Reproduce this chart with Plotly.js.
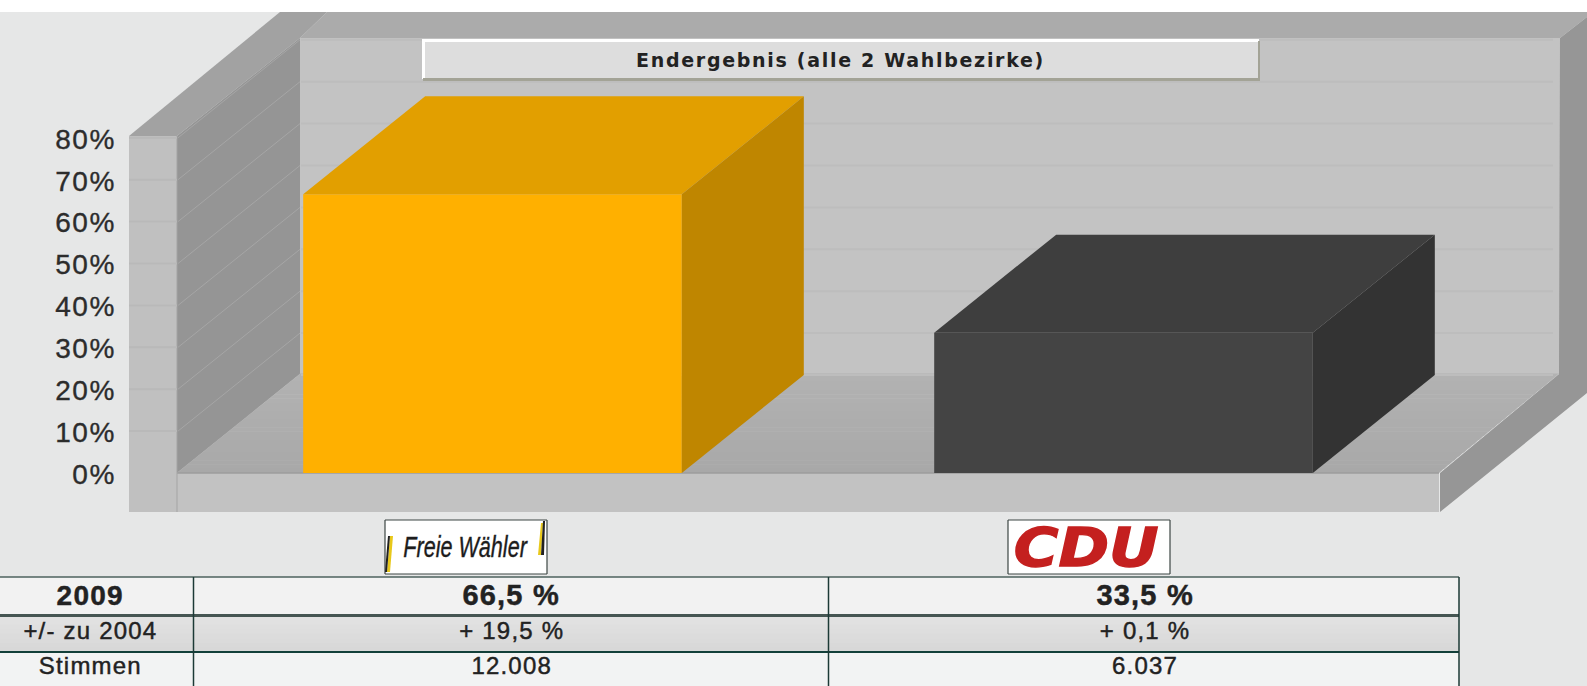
<!DOCTYPE html>
<html>
<head>
<meta charset="utf-8">
<script src="https://cdn.plot.ly/plotly-3.0.1.min.js"></script>
<style>
html,body{margin:0;padding:0;background:#e6e7e7;overflow:hidden}
#chart{width:1587px;height:686px}
.gtitle{letter-spacing:1.7px}
.annotation text{letter-spacing:1.2px;stroke:#222222;stroke-width:.45px}
.ytick text{letter-spacing:1.6px;stroke:#2c2c2c;stroke-width:.35px}
.annotation[data-index="9"] text{letter-spacing:0;stroke-width:.4px;transform-box:fill-box;transform-origin:center;transform:scaleX(.72)}
.annotation[data-index="10"] text{letter-spacing:0;stroke:#c4201f;stroke-width:1.4px;transform-box:fill-box;transform-origin:center;transform:scaleX(1.13)}
</style>
</head>
<body>
<div id="chart"></div>
<script>
// ---- chart data ----
const chartTitle = "Endergebnis (alle 2 Wahlbezirke)";
const categories = ["Freie Wähler", "CDU"];
const voteShare = [66.5, 33.5];
const yTicks = [0, 10, 20, 30, 40, 50, 60, 70, 80];
const rowLabels = ["2009", "+/- zu 2004", "Stimmen"];
const freieWaehlerRow = ["66,5 %", "+ 19,5 %", "12.008"];
const cduRow = ["33,5 %", "+ 0,1 %", "6.037"];

// ---- page geometry ----
const W = 1587, H = 686;
const zeroY = 473, pxPerUnit = 4.19;
const xUnit = 631, xCenter0 = 492.5;
const depthX = 122, depthY = 98;
const xRange = [(0 - xCenter0) / xUnit, (W - xCenter0) / xUnit];
const yRange = [(zeroY - H) / pxPerUnit, zeroY / pxPerUnit];
const dxData = depthX / xUnit, dyData = depthY / pxPerUnit;
const barWidth = 0.6;
const barColors = {front: ["#ffb000", "#444444"], top: ["#e29f00", "#3e3e3e"], side: ["#bf8600", "#333333"]};

const P = (x, y) => `${x / W},${1 - y / H}`;
const poly = (pts, fill, layer) => ({
  type: "path", xref: "paper", yref: "paper", layer: layer || "below",
  path: "M" + pts.map(p => P(p[0], p[1])).join("L") + "Z",
  fillcolor: fill, line: {width: 0}
});
const rect = (x0, y0, x1, y1, fill) => poly([[x0, y0], [x1, y0], [x1, y1], [x0, y1]], fill);
const seg = (x0, y0, x1, y1, color, width) => ({
  type: "line", xref: "paper", yref: "paper", layer: "below",
  x0: x0 / W, x1: x1 / W, y0: 1 - y0 / H, y1: 1 - y1 / H,
  line: {color, width}
});

const shapes = [];
// white strip on top
shapes.push(rect(0, 0, W, 12, "#ffffff"));
// frame rims
shapes.push(poly([[300, 38], [327, 12], [W, 12], [W, 17], [1560, 38]], "#ababab"));
shapes.push(poly([[129, 136], [280, 12], [327, 12], [300, 38], [177, 136]], "#a2a2a2"));
// back wall, left wall, right wall
shapes.push(rect(300, 38, 1560, 374, "#c3c3c3"));
shapes.push(poly([[177, 136], [300, 38], [300, 374], [177, 473]], "#959595"));
shapes.push(poly([[1440, 473], [1559, 374], [1560, 38], [W, 17], [W, 393], [1440, 512]], "#969696"));
// floor, with a soft vertical gradient
const floorSteps = 24;
for (let s = 0; s < floorSteps; s++) {
  const t0 = s / floorSteps, t1 = (s + 1) / floorSteps;
  const yA = 374 + 99 * t0, yB = 374 + 99 * t1;
  const xl = t => 300 - 123 * t, xr = t => 1559 - 120 * t;
  const g = Math.round(178 - 10 * t0);
  shapes.push(poly([[xl(t0), yA - 0.5], [xr(t0), yA - 0.5], [xr(t1), yB], [xl(t1), yB]], `rgb(${g},${g},${g})`));
}
// front slab and left column
shapes.push(rect(177, 473, 1439, 512, "#c2c2c2"));
shapes.push(seg(177, 473, 1439, 473, "#9c9c9c", 1.5));
shapes.push(rect(129, 136, 177, 512, "#c0c0c0"));
shapes.push(seg(177, 136, 177, 512, "#a4a4a4", 1));
// grid lines derived from the ticks
yTicks.forEach(v => {
  const y = zeroY - v * pxPerUnit;
  if (v > 0) {
    shapes.push(seg(129, y, 177, y, "#b9b9b9", 2));
    shapes.push(seg(178, y, 300, y - depthY, "#a6a6a6", 1));
  }
  shapes.push(seg(301, y - depthY, 1553, y - depthY, "#bdbdbd", 2));
});
// title plate
shapes.push(rect(422, 39, 1259, 79, "#dddddd"));
shapes.push(rect(422, 39, 1259, 42, "#ffffff"));
shapes.push(rect(422, 39, 425, 79, "#ffffff"));
shapes.push(rect(423, 78, 1259, 81, "#a3a396"));
shapes.push(rect(1258, 41, 1260, 81, "#a3a396"));
// logos
const logoBox = (x0, x1) => {
  shapes.push(rect(x0, 520, x1, 574, "#ffffff"));
  [[x0, 520, x1, 520], [x0, 574, x1, 574], [x0, 520, x0, 574], [x1, 520, x1, 574]]
    .forEach(c => shapes.push(seg(c[0], c[1], c[2], c[3], "#3c4644", 1.2)));
};
logoBox(385, 547);
logoBox(1008, 1170);
shapes.push(poly([[390, 536], [393, 536], [390, 572], [387, 572]], "#e8c81a"));
shapes.push(poly([[388, 536], [390, 536], [387, 572], [385, 572]], "#222222"));
shapes.push(poly([[541, 523], [543, 523], [541, 555], [538, 555]], "#e8c81a"));
shapes.push(poly([[543, 521], [545, 521], [544, 555], [541, 555]], "#222222"));
// table
const rowEdges = [577, 615, 652, H];
const rowFill = ["#f2f2f2", null, "#f2f3f3"];
const tableRight = 1459, colEdges = [193.5, 828.5];
shapes.push(rect(0, rowEdges[0], tableRight, rowEdges[1], rowFill[0]));
for (let s = 0; s < 8; s++) {
  const g = Math.round(226 - 10 * s / 7);
  shapes.push(rect(0, 615 + s * 37 / 8, tableRight, 615 + (s + 1) * 37 / 8 + 0.5, `rgb(${g},${g},${g})`));
}
shapes.push(rect(0, rowEdges[2], tableRight, rowEdges[3], rowFill[2]));
shapes.push(seg(0, 577, tableRight, 577, "#4c625e", 1.5));
shapes.push(seg(0, 615.5, tableRight, 615.5, "#465653", 3));
shapes.push(seg(0, 652, tableRight, 652, "#123f39", 2));
colEdges.concat([tableRight]).forEach(x => shapes.push(seg(x, 577, x, H, "#1c3a36", 1.5)));

// ---- traces ----
const xIdx = categories.map((_, i) => i);
const traces = [{
  type: "bar", x: xIdx, y: voteShare, width: barWidth,
  marker: {color: barColors.front, line: {width: 0}}, hoverinfo: "skip", cliponaxis: false
}];
xIdx.forEach(i => {
  const v = voteShare[i], l = i - barWidth / 2, r = i + barWidth / 2;
  traces.push({
    type: "scatter", mode: "lines", fill: "toself", fillcolor: barColors.top[i], line: {width: 0},
    x: [l, r, r + dxData, l + dxData, l], y: [v, v, v + dyData, v + dyData, v], hoverinfo: "skip"
  });
  traces.push({
    type: "scatter", mode: "lines", fill: "toself", fillcolor: barColors.side[i], line: {width: 0},
    x: [r, r + dxData, r + dxData, r, r], y: [0, dyData, v + dyData, v, 0], hoverinfo: "skip"
  });
});

// ---- text ----
const note = (x, y, text, size, extra) => Object.assign({
  xref: "paper", yref: "paper", x: x / W, y: 1 - y / H, text, showarrow: false,
  xanchor: "center", yanchor: "middle",
  font: {family: "Liberation Sans, Arial, sans-serif", size, color: "#222222"}
}, extra || {});
const rowY = [595, 630, 665];
const rowSizes = [[28, 29, 29], [24, 24, 24], [24, 24, 24]];
const colX = [90, 511, 1145];
const annotations = [];
rowLabels.forEach((t, r) => {
  const wrap = r === 0 ? s => "<b>" + s + "</b>" : s => s;
  annotations.push(note(colX[0], rowY[r], wrap(t), rowSizes[r][0]));
  annotations.push(note(colX[1], rowY[r], wrap(freieWaehlerRow[r]), rowSizes[r][1]));
  annotations.push(note(colX[2], rowY[r], wrap(cduRow[r]), rowSizes[r][2]));
});
annotations.push(note(465.5, 546, "<i>" + categories[0] + "</i>", 30,
  {font: {family: "Liberation Sans, sans-serif", size: 30, color: "#1c1c1c"}}));
annotations.push(note(1086, 547, "<b><i>" + categories[1] + "</i></b>", 54,
  {font: {family: "DejaVu Sans, sans-serif", size: 54, color: "#c4201f"}}));

const layout = {
  width: W, height: H,
  margin: {l: 0, r: 0, t: 0, b: 0, pad: 0},
  paper_bgcolor: "#e6e7e7", plot_bgcolor: "rgba(0,0,0,0)",
  showlegend: false,
  title: {
    text: "<b>" + chartTitle + "</b>", x: 840.5 / W, y: 1 - 60 / H, xref: "paper", yref: "paper",
    xanchor: "center", yanchor: "middle",
    font: {family: "DejaVu Sans, Verdana, sans-serif", size: 19, color: "#222222"}
  },
  xaxis: {range: xRange, type: "linear", showgrid: false, zeroline: false, showticklabels: false, ticks: "", showline: false},
  yaxis: {
    range: yRange, anchor: "free", position: 116 / W, side: "left", tickmode: "array", tickvals: yTicks,
    ticktext: yTicks.map(v => v + "%"), showgrid: false, zeroline: false, showline: false, ticks: "",
    ticklabelshift: 1,
    tickfont: {family: "Liberation Sans, Arial, sans-serif", size: 28, color: "#2c2c2c"}
  },
  shapes, annotations
};
Plotly.newPlot("chart", traces, layout, {displayModeBar: false, staticPlot: true});
</script>
</body>
</html>
